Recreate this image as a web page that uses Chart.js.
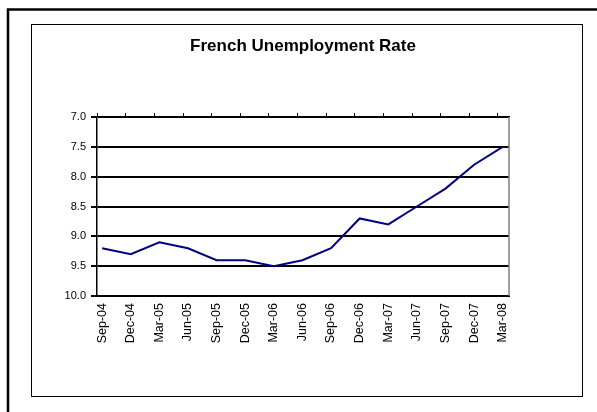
<!DOCTYPE html>
<html>
<head>
<meta charset="utf-8">
<script src="https://cdn.jsdelivr.net/npm/chart.js@4/dist/chart.umd.min.js"></script>
<style>
  html, body { margin: 0; padding: 0; background: #fff; }
  #wrap { width: 597px; height: 412px; position: relative; }
</style>
</head>
<body>
<div id="wrap"><canvas id="rateChart"></canvas></div>
<script>
const quarters = ["Sep-04", "Dec-04", "Mar-05", "Jun-05", "Sep-05", "Dec-05", "Mar-06", "Jun-06",
  "Sep-06", "Dec-06", "Mar-07", "Jun-07", "Sep-07", "Dec-07", "Mar-08"];
const unemployment = [9.2, 9.3, 9.1, 9.2, 9.4, 9.4, 9.5, 9.4, 9.2, 8.7, 8.8, 8.5, 8.2, 7.8, 7.5];
const yTicks = [7.0, 7.5, 8.0, 8.5, 9.0, 9.5, 10.0];
const chartTitle = "French Unemployment Rate";

// frames + title, drawn like the excel sheet
const framePlugin = {
  id: "frame",
  beforeDraw(chart) {
    const ctx = chart.ctx;
    ctx.save();
    ctx.fillStyle = "#fff";
    ctx.fillRect(0, 0, chart.width, chart.height);
    ctx.strokeStyle = "#000";
    ctx.lineWidth = 2.5;
    ctx.strokeRect(8, 9.5, 620, 440);
    ctx.lineWidth = 1;
    ctx.strokeRect(31.5, 24.5, 551, 372);
    ctx.restore();
  },
  afterDraw(chart) {
    const ctx = chart.ctx;
    const a = chart.chartArea;
    ctx.save();
    ctx.strokeStyle = "#808080";
    ctx.lineWidth = 1.5;
    ctx.beginPath();
    ctx.moveTo(a.right, a.top);
    ctx.lineTo(a.right, a.bottom);
    ctx.stroke();
    ctx.fillStyle = "#000";
    ctx.font = "bold 17px 'Liberation Sans', Arial, sans-serif";
    ctx.textAlign = "center";
    ctx.textBaseline = "alphabetic";
    ctx.fillText(chartTitle, (a.left + a.right) / 2, 51);
    ctx.restore();
  }
};

const points = unemployment.map((v, i) => ({ x: i, y: v }));

new Chart(document.getElementById("rateChart"), {
  type: "line",
  data: {
    datasets: [{
      data: points,
      borderColor: "#000080",
      backgroundColor: "#000080",
      borderWidth: 2,
      pointRadius: 0,
      tension: 0,
      xAxisID: "x",
      yAxisID: "y"
    }]
  },
  options: {
    responsive: true,
    maintainAspectRatio: false,
    animation: false,
    layout: { padding: { left: 0, right: 88, top: 0, bottom: 0 } },
    plugins: { legend: { display: false }, tooltip: { enabled: false }, title: { display: false } },
    scales: {
      x: {
        type: "linear",
        position: "bottom",
        min: -0.18,
        max: 14.22,
        afterBuildTicks: (s) => { s.ticks = quarters.map((_, i) => ({ value: i })); },
        afterFit: (s) => { s.height = 116; },
        ticks: {
          callback: (v) => quarters[v],
          minRotation: 90,
          maxRotation: 90,
          padding: 7,
          color: "#000",
          font: { family: "'Liberation Sans', Arial, sans-serif", size: 12.5 }
        },
        grid: { drawOnChartArea: false, drawTicks: false },
        border: { display: true, color: "#000", width: 2 }
      },
      xTop: {
        type: "linear",
        position: "top",
        min: -0.18,
        max: 14.22,
        afterBuildTicks: (s) => { s.ticks = quarters.map((_, i) => ({ value: i - 0.17 })); },
        afterFit: (s) => { s.height = 117; },
        ticks: { display: false },
        grid: { drawOnChartArea: false, drawTicks: true, tickLength: 4, color: "#000" },
        border: { display: true, color: "#000", width: 1.5 }
      },
      y: {
        reverse: true,
        min: 7,
        max: 10,
        afterBuildTicks: (s) => { s.ticks = yTicks.map((v) => ({ value: v })); },
        afterFit: (s) => { s.width = 97; },
        ticks: {
          callback: (v) => v.toFixed(1),
          padding: 5,
          color: "#000",
          font: { family: "'Liberation Sans', Arial, sans-serif", size: 11 }
        },
        grid: { color: "#000", lineWidth: 2, tickLength: 6 },
        border: { display: true, color: "#000", width: 1.5 }
      }
    }
  },
  plugins: [framePlugin]
});
</script>
</body>
</html>
